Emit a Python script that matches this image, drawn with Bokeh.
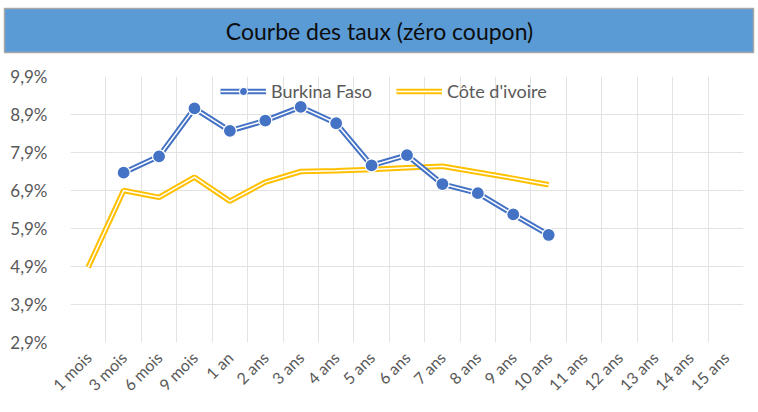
from bokeh.plotting import figure
from bokeh.models import FixedTicker, Legend, LegendItem, Range1d, BoxAnnotation
from bokeh.core.properties import value
from bokeh.embed import file_html
from bokeh.resources import INLINE

# ---- data ----
categories = ["1 mois", "3 mois", "6 mois", "9 mois", "1 an", "2 ans", "3 ans", "4 ans",
              "5 ans", "6 ans", "7 ans", "8 ans", "9 ans", "10 ans", "11 ans", "12 ans",
              "13 ans", "14 ans", "15 ans"]
burkina_cats = ["3 mois", "6 mois", "9 mois", "1 an", "2 ans", "3 ans", "4 ans", "5 ans",
                "6 ans", "7 ans", "8 ans", "9 ans", "10 ans"]
burkina_vals = [7.37, 7.80, 9.06, 8.47, 8.74, 9.10, 8.67, 7.56, 7.83, 7.07, 6.83, 6.27, 5.73]
civ_cats = ["1 mois", "3 mois", "6 mois", "9 mois", "1 an", "2 ans", "3 ans", "4 ans",
            "5 ans", "6 ans", "7 ans", "8 ans", "9 ans", "10 ans"]
civ_vals = [4.88, 6.90, 6.72, 7.25, 6.62, 7.12, 7.40, 7.42, 7.45, 7.50, 7.54, 7.38, 7.22, 7.05]
y_ticks = [2.9, 3.9, 4.9, 5.9, 6.9, 7.9, 8.9, 9.9]
y_tick_labels = ["2,9%", "3,9%", "4,9%", "5,9%", "6,9%", "7,9%", "8,9%", "9,9%"]
title_text = "Courbe des taux (zéro coupon)"

FONT = "Lato"
W = 758
TH = 56
CH = 356

# ---- title figure (pixel-based decoration canvas) ----
t = figure(width=W, height=TH, x_range=Range1d(0, W), y_range=Range1d(0, TH),
           x_axis_location=None, y_axis_location=None,
           output_backend="svg", toolbar_location=None, min_border=0)
t.grid.visible = False
t.outline_line_color = None
t.quad(left=[4], right=[753], bottom=[TH - 52], top=[TH - 8],
       fill_color="#5B9BD5", line_color="#A6A6A6", line_width=1.5)
t.text(x=[W / 2], y=[TH - 30], text=[title_text], text_align="center", text_baseline="middle",
       text_font=value(FONT), text_font_size="23px", text_color="#0D0D0D")

# ---- chart figure ----
idx = {c: i + 0.5 for i, c in enumerate(categories)}
bx = [idx[c] for c in burkina_cats]
cx = [idx[c] for c in civ_cats]

p = figure(width=W, height=CH, x_range=Range1d(0, len(categories)),
           y_range=Range1d(y_ticks[0], y_ticks[-1]),
           output_backend="svg", toolbar_location=None,
           min_border_left=70, min_border_right=15, min_border_top=20, min_border_bottom=70)
p.outline_line_color = None

p.xaxis.ticker = FixedTicker(ticks=[idx[c] for c in categories])
p.xaxis.major_label_overrides = {idx[c]: c for c in categories}
p.xaxis.major_label_orientation = 0.785398
p.yaxis.ticker = FixedTicker(ticks=y_ticks)
p.yaxis.major_label_overrides = {v: l for v, l in zip(y_ticks, y_tick_labels)}
for ax in (p.xaxis, p.yaxis):
    ax.axis_line_color = None
    ax.major_tick_line_color = None
    ax.minor_tick_line_color = None
    ax.major_label_text_font = FONT
    ax.major_label_text_font_size = "16px"
    ax.major_label_text_color = "#595959"
p.yaxis.major_label_text_font_size = "17px"
p.yaxis.major_label_standoff = 17
p.xaxis.major_label_standoff = 6

p.xgrid.ticker = FixedTicker(ticks=list(range(len(categories) + 1)))
p.ygrid.ticker = FixedTicker(ticks=y_ticks)
p.grid.grid_line_color = "#E3E3E3"
p.grid.grid_line_width = 1

civ_outer = p.line(cx, civ_vals, line_color="#FFC000", line_width=5.5)
civ_inner = p.line(cx, civ_vals, line_color="white", line_width=1.5)
bf_outer = p.line(bx, burkina_vals, line_color="#4472C4", line_width=5.5)
bf_inner = p.line(bx, burkina_vals, line_color="white", line_width=1.5)
bf_marks = p.scatter(bx, burkina_vals, size=13, fill_color="#4472C4",
                     line_color="white", line_width=1.2)

legend = Legend(items=[
    LegendItem(label="Burkina Faso", renderers=[bf_outer, bf_inner, bf_marks]),
    LegendItem(label="Côte d'ivoire", renderers=[civ_outer, civ_inner]),
], orientation="horizontal", location=(150, 240))
legend.label_text_font = FONT
legend.label_text_font_size = "18px"
legend.label_text_color = "#595959"
legend.border_line_color = None
legend.background_fill_alpha = 0
legend.glyph_width = 46
legend.spacing = 24
legend.padding = 2
p.add_layout(legend)

p.add_layout(BoxAnnotation(left=10, right=755, top=3, bottom=353,
                           left_units="canvas", right_units="canvas",
                           top_units="canvas", bottom_units="canvas",
                           fill_alpha=0, line_color="#D0D0D0", line_width=1.5))

open("out.html", "w").write(file_html([t, p], INLINE))
